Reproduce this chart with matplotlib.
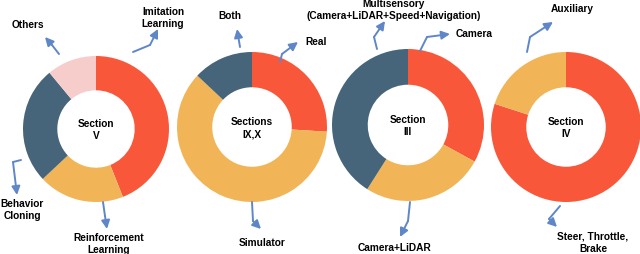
import matplotlib
matplotlib.use("Agg")
import matplotlib.pyplot as plt

plt.rcParams['font.family'] = ['Liberation Sans', 'DejaVu Sans']

# ---- data ----
sec5_labels = ["Imitation Learning", "Reinforcement Learning", "Behavior Cloning", "Others"]
sec5_values = [44, 19, 26, 11]
sec910_labels = ["Real", "Simulator", "Both"]
sec910_values = [26, 61, 13]
sec3_labels = ["Camera", "Camera+LiDAR", "Multisensory"]
sec3_values = [33, 26, 41]
sec4_labels = ["Steer, Throttle, Brake", "Auxiliary"]
sec4_values = [80, 20]
center_titles = ["Section\nV", "Sections\nIX,X", "Section\nIII", "Section\nIV"]

RED = "#F9573A"
ORANGE = "#F1B558"
BLUE = "#46647A"
PINK = "#F6CDCB"
ARROW = "#5F87C8"
FS = 7.3

W, H = 640, 255
fig = plt.figure(figsize=(6.4, 2.55), dpi=100)
ax = fig.add_axes([0, 0, 1, 1])

def Y(py):
    return H - py

donuts = [
    (sec5_values, [RED, ORANGE, BLUE, PINK], (96, 130), 73),
    (sec910_values, [RED, ORANGE, BLUE], (252, 128), 75),
    (sec3_values, [RED, ORANGE, BLUE], (408, 126), 76),
    (sec4_values, [RED, ORANGE], (566, 128), 75),
]
for (vals, cols, (cx, cy), r), title in zip(donuts, center_titles):
    ax.pie(vals, colors=cols, center=(cx, Y(cy)), radius=r, startangle=90,
           counterclock=False, wedgeprops=dict(width=r * 0.47, linewidth=0))
    ax.text(cx, Y(cy), title, ha='center', va='center', fontsize=FS,
            fontweight='bold', linespacing=1.3)

# labels (text, x, y)
labels = [
    ("Others", 28, 25),
    ("Imitation\nLearning", 163, 18),
    ("Behavior\nCloning", 22, 210),
    ("Reinforcement\nLearning", 109, 244),
    ("Both", 230, 16),
    ("Real", 316, 42),
    ("Simulator", 262, 243),
    ("Multisensory\n(Camera+LiDAR+Speed+Navigation)", 394, 10),
    ("Camera", 474, 34),
    ("Camera+LiDAR", 395, 248),
    ("Auxiliary", 572, 9),
    ("Steer, Throttle,\nBrake", 593, 243),
]
for t, x, y in labels:
    ax.text(x, Y(y), t, ha='center', va='center', fontsize=FS,
            fontweight='bold', linespacing=1.35)

arrows = [
    [(59, 55), (52, 46), (45, 38)],
    [(133, 53), (150, 46), (158, 30)],
    [(21, 161), (13, 163), (17, 196)],
    [(103, 203), (105, 217), (107, 230)],
    [(240, 48), (237, 30)],
    [(280, 63), (282, 55), (298, 43)],
    [(252, 203), (253, 222), (261, 230)],
    [(377, 50), (374, 38), (385, 22)],
    [(420, 52), (427, 38), (450, 35)],
    [(410, 203), (408, 222), (400, 238)],
    [(527, 53), (530, 38), (553, 23)],
    [(560, 207), (549, 220), (557, 228)],
]
for pts in arrows:
    xs = [p[0] for p in pts[:-1]]
    ys = [Y(p[1]) for p in pts[:-1]]
    if len(xs) > 1:
        ax.plot(xs, ys, color=ARROW, lw=1.4, solid_capstyle='round')
    ax.annotate("", xy=(pts[-1][0], Y(pts[-1][1])),
                xytext=(pts[-2][0], Y(pts[-2][1])),
                arrowprops=dict(arrowstyle="-|>,head_length=0.5,head_width=0.25",
                                color=ARROW, lw=1.4, shrinkA=0, shrinkB=0))

ax.set_xlim(0, W)
ax.set_ylim(0, H)
ax.set_aspect('auto')
ax.axis('off')
fig.savefig("out.png", dpi=100)
